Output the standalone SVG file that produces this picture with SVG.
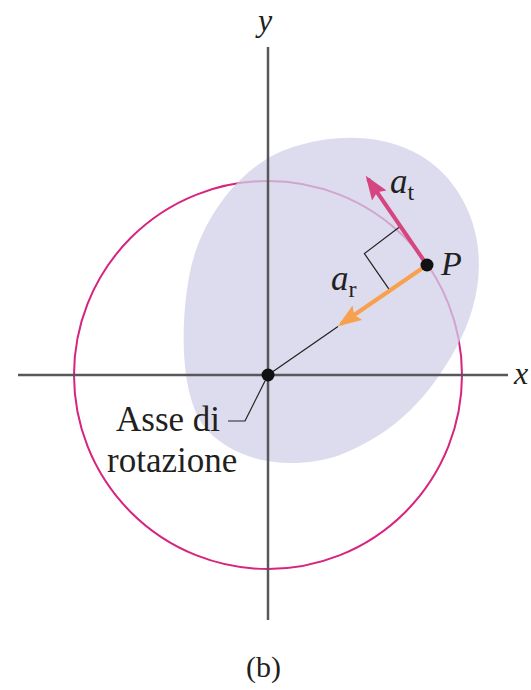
<svg xmlns="http://www.w3.org/2000/svg" width="531" height="690" viewBox="0 0 531 690">
<style>
.lbl{font-family:"Liberation Serif","Times New Roman",serif;fill:#231f20}
.it{font-style:italic}
.axis{stroke:#58585a;stroke-width:2.5;fill:none}
.thin{stroke:#231f20;stroke-width:1.2;fill:none}
</style>
<defs>
<marker id="ht" markerWidth="6" markerHeight="4.4" refX="5" refY="2.2" orient="auto" markerUnits="strokeWidth"><path d="M0,0 L6,2.2 L0,4.4 L1,2.2 Z" fill="#d6457f"/></marker>
<marker id="hr" markerWidth="6" markerHeight="4.4" refX="5" refY="2.2" orient="auto" markerUnits="strokeWidth"><path d="M0,0 L6,2.2 L0,4.4 L1,2.2 Z" fill="#f7a14f"/></marker>
</defs>
<g id="circle"><circle cx="268" cy="375" r="194" fill="none" stroke="#d6247f" stroke-width="2"/></g>
<g id="body"><path d="M300,145 C360,128 425,140 458,192 C490,242 482,302 456,348 C430,395 398,432 340,455 C290,472 232,462 203,425 C180,392 180,322 190,272 C200,222 240,160 300,145 Z" fill="#d0d0e8" opacity="0.75"/></g>
<g id="connectors">
<line class="axis" x1="18" y1="375" x2="508" y2="375"/>
<line class="axis" x1="268" y1="47" x2="268" y2="620"/>
<line class="thin" x1="338" y1="326.5" x2="268" y2="375"/>
<polyline class="thin" points="228,421 245,421 265,381"/>
<polyline class="thin" points="400.8,226 364.4,253.6 390,290.6"/>
<line x1="427" y1="265" x2="368" y2="179" stroke="#d6457f" stroke-width="4" marker-end="url(#ht)"/>
<line x1="427" y1="265" x2="341" y2="324" stroke="#f7a14f" stroke-width="4" marker-end="url(#hr)"/>
</g>
<g id="P"><circle cx="427" cy="265" r="6.5" fill="#111"/><text class="lbl it" x="441" y="275" font-size="34">P</text></g>
<g id="origin"><circle cx="268" cy="375" r="6.5" fill="#111"/></g>
<g id="at"><text class="lbl it" x="390" y="193" font-size="35">a<tspan font-style="normal" font-size="24" dy="7">t</tspan></text></g>
<g id="ar"><text class="lbl it" x="331" y="290" font-size="35">a<tspan font-style="normal" font-size="24" dy="7">r</tspan></text></g>
<g id="axis-label"><text class="lbl" x="116" y="431" font-size="35">Asse di</text><text class="lbl" x="107" y="472" font-size="35">rotazione</text></g>
<text class="lbl it" x="258" y="31" font-size="32">y</text>
<text class="lbl it" x="514" y="384" font-size="32">x</text>
<text class="lbl" x="246" y="677" font-size="30">(b)</text>
</svg>
